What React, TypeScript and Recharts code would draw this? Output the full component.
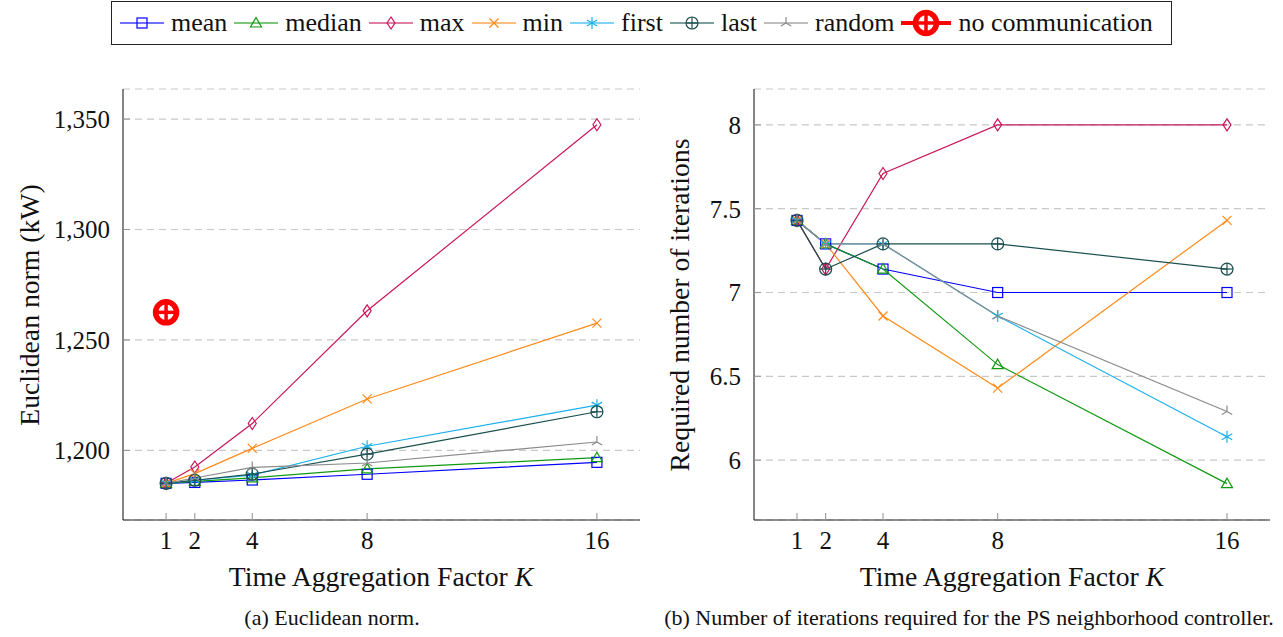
import React from 'react';
import { LineChart, Line, XAxis, YAxis, CartesianGrid } from 'recharts';

const kValues = [1, 2, 4, 8, 16];
const seriesNames = ['mean', 'median', 'max', 'min', 'first', 'last', 'random'];

// (a) Euclidean norm (kW)
const normMean = [1185.1, 1185.5, 1186.6, 1189.2, 1194.6];
const normMedian = [1185.1, 1186.0, 1187.6, 1191.6, 1196.7];
const normMax = [1185.1, 1192.5, 1212.2, 1263.2, 1347.4];
const normMin = [1185.1, 1189.5, 1200.9, 1223.3, 1257.6];
const normFirst = [1185.1, 1186.5, 1188.8, 1201.9, 1220.5];
const normLast = [1185.1, 1186.5, 1189.3, 1198.3, 1217.5];
const normRandom = [1185.1, 1187.5, 1192.3, 1194.3, 1203.8];
const normNoComm = 1262.5;

// (b) Required number of iterations
const iterMean = [7.43, 7.29, 7.14, 7.0, 7.0];
const iterMedian = [7.43, 7.29, 7.14, 6.57, 5.86];
const iterMax = [7.43, 7.14, 7.71, 8.0, 8.0];
const iterMin = [7.43, 7.29, 6.86, 6.43, 7.43];
const iterFirst = [7.43, 7.29, 7.29, 6.86, 6.14];
const iterLast = [7.43, 7.14, 7.29, 7.29, 7.14];
const iterRandom = [7.43, 7.29, 7.29, 6.86, 6.29];

const normTicks = [1200, 1250, 1300, 1350];
const iterTicks = [6, 6.5, 7, 7.5, 8];
const normDomain = [1168.5, 1363.6];
const iterDomain = [5.643, 8.214];
const xDomain = [-0.5, 17.5];

const colors: Record<string, string> = {
  mean: '#0000ff',
  median: '#119911',
  max: '#c8175a',
  min: '#ff8a1a',
  first: '#1ab0ee',
  last: '#1b4f4f',
  random: '#8a8a8a',
  nocomm: '#ff0000',
};
const shapes: Record<string, string> = {
  mean: 'square',
  median: 'triangle',
  max: 'diamond',
  min: 'x',
  first: 'star',
  last: 'oplus',
  random: 'tri',
  nocomm: 'nocomm',
};

const normSeries = [normMean, normMedian, normMax, normMin, normFirst, normLast, normRandom];
const iterSeries = [iterMean, iterMedian, iterMax, iterMin, iterFirst, iterLast, iterRandom];

const normData = kValues.map((k, i) => {
  const row: any = { k };
  seriesNames.forEach((n, j) => (row[n] = normSeries[j][i]));
  row.nocomm = i === 0 ? normNoComm : null;
  return row;
});
const iterData = kValues.map((k, i) => {
  const row: any = { k };
  seriesNames.forEach((n, j) => (row[n] = iterSeries[j][i]));
  return row;
});

const FONT = '"Liberation Serif", "Times New Roman", serif';

function Marker({ shape, cx, cy, color }: { shape: string; cx: number; cy: number; color: string }) {
  const sw = 1.2;
  switch (shape) {
    case 'square':
      return <rect x={cx - 5} y={cy - 5} width={10} height={10} fill="none" stroke={color} strokeWidth={sw} />;
    case 'triangle':
      return (
        <polygon
          points={`${cx},${cy - 5.5} ${cx - 5.5},${cy + 4} ${cx + 5.5},${cy + 4}`}
          fill="none"
          stroke={color}
          strokeWidth={sw}
        />
      );
    case 'diamond':
      return (
        <polygon
          points={`${cx},${cy - 6} ${cx + 4},${cy} ${cx},${cy + 6} ${cx - 4},${cy}`}
          fill="none"
          stroke={color}
          strokeWidth={sw}
        />
      );
    case 'x':
      return (
        <g stroke={color} strokeWidth={sw}>
          <line x1={cx - 4.5} y1={cy - 4.5} x2={cx + 4.5} y2={cy + 4.5} />
          <line x1={cx - 4.5} y1={cy + 4.5} x2={cx + 4.5} y2={cy - 4.5} />
        </g>
      );
    case 'star':
      return (
        <g stroke={color} strokeWidth={sw}>
          <line x1={cx} y1={cy - 6} x2={cx} y2={cy + 6} />
          <line x1={cx - 5.2} y1={cy - 3} x2={cx + 5.2} y2={cy + 3} />
          <line x1={cx - 5.2} y1={cy + 3} x2={cx + 5.2} y2={cy - 3} />
        </g>
      );
    case 'oplus':
      return (
        <g stroke={color} strokeWidth={sw} fill="none">
          <circle cx={cx} cy={cy} r={6} />
          <line x1={cx - 6} y1={cy} x2={cx + 6} y2={cy} />
          <line x1={cx} y1={cy - 6} x2={cx} y2={cy + 6} />
        </g>
      );
    case 'tri':
      return (
        <g stroke={color} strokeWidth={sw}>
          <line x1={cx} y1={cy} x2={cx} y2={cy - 6} />
          <line x1={cx} y1={cy} x2={cx - 5.2} y2={cy + 3} />
          <line x1={cx} y1={cy} x2={cx + 5.2} y2={cy + 3} />
        </g>
      );
    case 'nocomm':
      return (
        <g>
          <circle cx={cx} cy={cy} r={10.5} fill="#ffffff" stroke={color} strokeWidth={5.5} />
          <line x1={cx - 10} y1={cy} x2={cx + 10} y2={cy} stroke={color} strokeWidth={3.5} />
          <line x1={cx} y1={cy - 10} x2={cx} y2={cy + 10} stroke={color} strokeWidth={3.5} />
        </g>
      );
    default:
      return null;
  }
}

function makeDot(name: string) {
  return (p: any) => {
    if (p.cx == null || p.cy == null || p.value == null) return <g key={p.key ?? p.index} />;
    return (
      <g key={p.key ?? `${name}-${p.index}`}>
        <Marker shape={shapes[name]} cx={p.cx} cy={p.cy} color={colors[name]} />
      </g>
    );
  };
}

const tickStyle = { fontFamily: FONT, fontSize: 25, fill: '#111' };
const axisLine = { stroke: '#222', strokeWidth: 1.1 };
const tickLineStyle = { stroke: '#999', strokeWidth: 1.1 };

function Panel({
  data,
  names,
  yDomain,
  yTicks,
  yFormatter,
  yAxisWidth,
  width,
  withNoComm,
}: any) {
  return (
    <LineChart width={width} height={480} data={data} margin={{ top: 9, right: 13, bottom: 0, left: 0 }}>
      <CartesianGrid vertical={false} stroke="#c8c8c8" strokeDasharray="7 5" strokeWidth={1.2} />
      <XAxis
        dataKey="k"
        type="number"
        domain={xDomain}
        ticks={kValues}
        height={40}
        tickSize={-7}
        tickMargin={18}
        tick={tickStyle}
        axisLine={axisLine}
        tickLine={tickLineStyle}
        allowDataOverflow
      />
      <XAxis
        xAxisId="top"
        orientation="top"
        dataKey="k"
        type="number"
        domain={xDomain}
        ticks={kValues}
        height={0}
        tickSize={-7}
        tick={false}
        axisLine={axisLine}
        tickLine={tickLineStyle}
        allowDataOverflow
      />
      <YAxis
        type="number"
        domain={yDomain}
        ticks={yTicks}
        width={yAxisWidth}
        tickSize={-7}
        tickMargin={20}
        tick={tickStyle}
        tickFormatter={yFormatter}
        axisLine={axisLine}
        tickLine={tickLineStyle}
        allowDataOverflow
      />
      <YAxis
        yAxisId="r"
        orientation="right"
        type="number"
        domain={yDomain}
        ticks={yTicks}
        width={0}
        tickSize={-7}
        tick={false}
        axisLine={axisLine}
        tickLine={tickLineStyle}
        allowDataOverflow
      />
      {names.map((n: string) => (
        <Line
          key={n}
          dataKey={n}
          stroke={colors[n]}
          strokeWidth={1.2}
          dot={makeDot(n)}
          activeDot={false}
          isAnimationActive={false}
          type="linear"
        />
      ))}
      {withNoComm && (
        <Line
          dataKey="nocomm"
          stroke="none"
          dot={makeDot('nocomm')}
          activeDot={false}
          isAnimationActive={false}
          connectNulls={false}
        />
      )}
    </LineChart>
  );
}

const legendNames = [...seriesNames, 'nocomm'];
const legendLabels: Record<string, string> = {
  mean: 'mean',
  median: 'median',
  max: 'max',
  min: 'min',
  first: 'first',
  last: 'last',
  random: 'random',
  nocomm: 'no communication',
};

function LegendBox() {
  return (
    <div
      style={{
        position: 'absolute',
        left: 111,
        top: 1,
        width: 1061,
        height: 44,
        border: '1.2px solid #222',
        display: 'flex',
        alignItems: 'center',
        paddingLeft: 8,
        boxSizing: 'border-box',
        fontFamily: FONT,
        fontSize: 26,
        color: '#111',
        whiteSpace: 'nowrap',
      }}
    >
      {legendNames.map((n) => {
        const isNc = n === 'nocomm';
        return (
          <div key={n} style={{ display: 'flex', alignItems: 'center', marginRight: 7 }}>
            <svg width={isNc ? 50 : 44} height={30} style={{ overflow: 'visible' }}>
              <line
                x1={0}
                y1={15}
                x2={isNc ? 50 : 44}
                y2={15}
                stroke={colors[n]}
                strokeWidth={isNc ? 4 : 2}
                opacity={isNc ? 1 : 0.55}
              />
              <Marker shape={shapes[n]} cx={isNc ? 25 : 22} cy={15} color={colors[n]} />
            </svg>
            <span style={{ marginLeft: 7, lineHeight: '30px' }}>{legendLabels[n]}</span>
          </div>
        );
      })}
    </div>
  );
}

const fmtNorm = (v: number) => v.toLocaleString('en-US');
const fmtIter = (v: number) => String(v);

const titleStyle: React.CSSProperties = {
  position: 'absolute',
  fontSize: 27.7,
  whiteSpace: 'nowrap',
  color: '#111',
  fontFamily: FONT,
};
const captionStyle: React.CSSProperties = {
  position: 'absolute',
  fontSize: 22,
  whiteSpace: 'nowrap',
  color: '#111',
  fontFamily: FONT,
  transform: 'translate(-50%, -50%)',
};

export default function App() {
  return (
    <div style={{ position: 'absolute', left: 0, top: 0, width: 1283, height: 637, background: '#fff', fontFamily: FONT }}>
      <LegendBox />
      <div style={{ position: 'absolute', left: 0, top: 80 }}>
        <Panel
          data={normData}
          names={seriesNames}
          yDomain={normDomain}
          yTicks={normTicks}
          yFormatter={fmtNorm}
          yAxisWidth={123}
          width={123 + 517 + 13}
          withNoComm
        />
      </div>
      <div style={{ position: 'absolute', left: 660, top: 80 }}>
        <Panel
          data={iterData}
          names={seriesNames}
          yDomain={iterDomain}
          yTicks={iterTicks}
          yFormatter={fmtIter}
          yAxisWidth={94}
          width={94 + 516 + 13}
        />
      </div>
      {/* axis titles */}
      <div style={{ ...titleStyle, left: 381, top: 577, transform: 'translate(-50%, -50%)' }}>
        Time Aggregation Factor <i>K</i>
      </div>
      <div style={{ ...titleStyle, left: 1012, top: 577, transform: 'translate(-50%, -50%)' }}>
        Time Aggregation Factor <i>K</i>
      </div>
      <div style={{ ...titleStyle, left: 30, top: 305, transform: 'translate(-50%, -50%) rotate(-90deg)' }}>
        Euclidean norm (kW)
      </div>
      <div style={{ ...titleStyle, left: 680, top: 305, transform: 'translate(-50%, -50%) rotate(-90deg)' }}>
        Required number of iterations
      </div>
      {/* captions */}
      <div style={{ ...captionStyle, left: 332, top: 618 }}>(a) Euclidean norm.</div>
      <div style={{ ...captionStyle, left: 969, top: 618 }}>
        (b) Number of iterations required for the PS neighborhood controller.
      </div>
    </div>
  );
}
